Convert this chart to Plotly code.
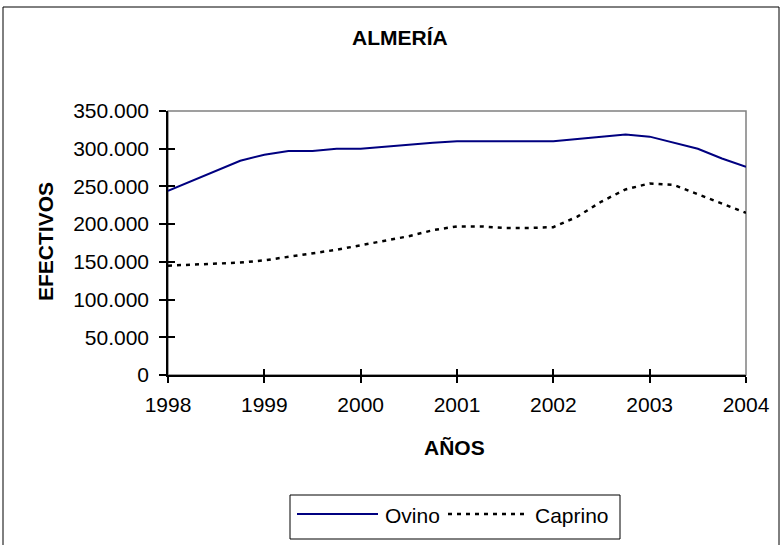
import plotly.graph_objects as go

# Quarterly positions (years)
years = [1998.0, 1998.25, 1998.5, 1998.75, 1999.0, 1999.25, 1999.5, 1999.75,
         2000.0, 2000.25, 2000.5, 2000.75, 2001.0, 2001.25, 2001.5, 2001.75,
         2002.0, 2002.25, 2002.5, 2002.75, 2003.0, 2003.25, 2003.5, 2003.75, 2004.0]
ovino = [244000, 257000, 270000, 284000, 292000, 297000, 297000, 300000,
         300000, 303000, 306000, 308000, 310000, 310000, 310000, 310000,
         310000, 313000, 316000, 319000, 316000, 308000, 300000, 287000, 276000]
caprino = [145000, 146000, 147000, 149000, 152000, 157000, 161000, 166000,
           172000, 178000, 184000, 192000, 197000, 197000, 195000, 195000,
           196000, 210000, 230000, 246000, 254000, 252000, 240000, 227000, 215000]
x_ticks = [1998, 1999, 2000, 2001, 2002, 2003, 2004]
y_ticks = [0, 50000, 100000, 150000, 200000, 250000, 300000, 350000]

FONT = "Liberation Sans, Arial, sans-serif"
NAVY = "#000080"

fig = go.Figure()
fig.add_trace(go.Scatter(x=years, y=ovino, mode="lines", name="Ovino",
                         line=dict(color=NAVY, width=2), showlegend=False))
fig.add_trace(go.Scatter(x=years, y=caprino, mode="lines", name="Caprino",
                         line=dict(color="black", width=2.5, dash="4px,5px"),
                         showlegend=False))
# empty helper traces so the overlay axes (inner tick halves) get drawn
fig.add_trace(go.Scatter(x=[], y=[], xaxis="x2", yaxis="y", showlegend=False, hoverinfo="skip"))
fig.add_trace(go.Scatter(x=[], y=[], xaxis="x", yaxis="y2", showlegend=False, hoverinfo="skip"))

# plot area px: left 168, right 746, top 111, bottom 375
def px(xp):
    return (xp - 168) / 578.0
def py(yp):
    return (375 - yp) / 264.0

shapes = [
    dict(type="rect", xref="paper", yref="paper", x0=px(3), x1=px(779), y0=py(560), y1=py(7),
         line=dict(color="black", width=1), layer="below"),
    dict(type="rect", xref="paper", yref="paper", x0=0, x1=1, y0=0, y1=1,
         line=dict(color="#808080", width=1.5), layer="below"),
    dict(type="rect", xref="paper", yref="paper", x0=px(290), x1=px(620), y0=py(539), y1=py(495),
         line=dict(color="black", width=1), fillcolor="white"),
    dict(type="line", xref="paper", yref="paper", x0=px(297), x1=px(378), y0=py(514), y1=py(514),
         line=dict(color=NAVY, width=2)),
    dict(type="line", xref="paper", yref="paper", x0=px(448), x1=px(527), y0=py(514), y1=py(514),
         line=dict(color="black", width=2.5, dash="4px,5px")),
]

annotations = [
    dict(text="<b>ALMERÍA</b>", xref="paper", yref="paper", x=px(400), y=py(37),
         xanchor="center", yanchor="middle", showarrow=False,
         font=dict(family=FONT, size=21, color="black")),
    dict(text="<b>AÑOS</b>", xref="paper", yref="paper", x=px(454), y=py(448),
         xanchor="center", yanchor="middle", showarrow=False,
         font=dict(family=FONT, size=21, color="black")),
    dict(text="<b>EFECTIVOS</b>", xref="paper", yref="paper", x=px(45), y=py(241),
         xanchor="center", yanchor="middle", showarrow=False, textangle=-90,
         font=dict(family=FONT, size=21, color="black")),
    dict(text="Ovino", xref="paper", yref="paper", x=px(383), y=py(515),
         xanchor="left", yanchor="middle", showarrow=False,
         font=dict(family=FONT, size=21, color="black")),
    dict(text="Caprino", xref="paper", yref="paper", x=px(533), y=py(515),
         xanchor="left", yanchor="middle", showarrow=False,
         font=dict(family=FONT, size=21, color="black")),
]

fig.update_layout(
    width=783, height=545,
    margin=dict(l=168, r=37, t=111, b=170),
    paper_bgcolor="white", plot_bgcolor="white",
    separators=",.",
    font=dict(family=FONT, size=21, color="black"),
    shapes=shapes, annotations=annotations,
    showlegend=False,
    xaxis=dict(range=[1998, 2004], tickvals=x_ticks, ticktext=[str(v) for v in x_ticks],
               showgrid=False, zeroline=False, showline=True, linecolor="black", linewidth=1.5,
               ticks="outside", ticklen=6, tickcolor="black", tickwidth=1.5,
               ticklabelstandoff=4, tickfont=dict(family=FONT, size=21)),
    yaxis=dict(range=[0, 350000], tickvals=y_ticks, tickformat=",d",
               showgrid=False, zeroline=False, showline=True, linecolor="black", linewidth=1.5,
               ticks="outside", ticklen=7, tickcolor="black", tickwidth=1.5,
               ticklabelstandoff=6, tickfont=dict(family=FONT, size=21)),
    xaxis2=dict(overlaying="x", anchor="y", range=[1998, 2004], tickvals=x_ticks,
                showticklabels=False, ticks="inside", ticklen=6, tickcolor="black", tickwidth=1.5,
                showgrid=False, zeroline=False, showline=False),
    yaxis2=dict(overlaying="y", anchor="x", range=[0, 350000], tickvals=y_ticks,
                showticklabels=False, ticks="inside", ticklen=7, tickcolor="black", tickwidth=1.5,
                showgrid=False, zeroline=False, showline=False),
)

fig.write_html("out.html", config={"displayModeBar": False},
               post_script="document.body.style.margin='0px';")
